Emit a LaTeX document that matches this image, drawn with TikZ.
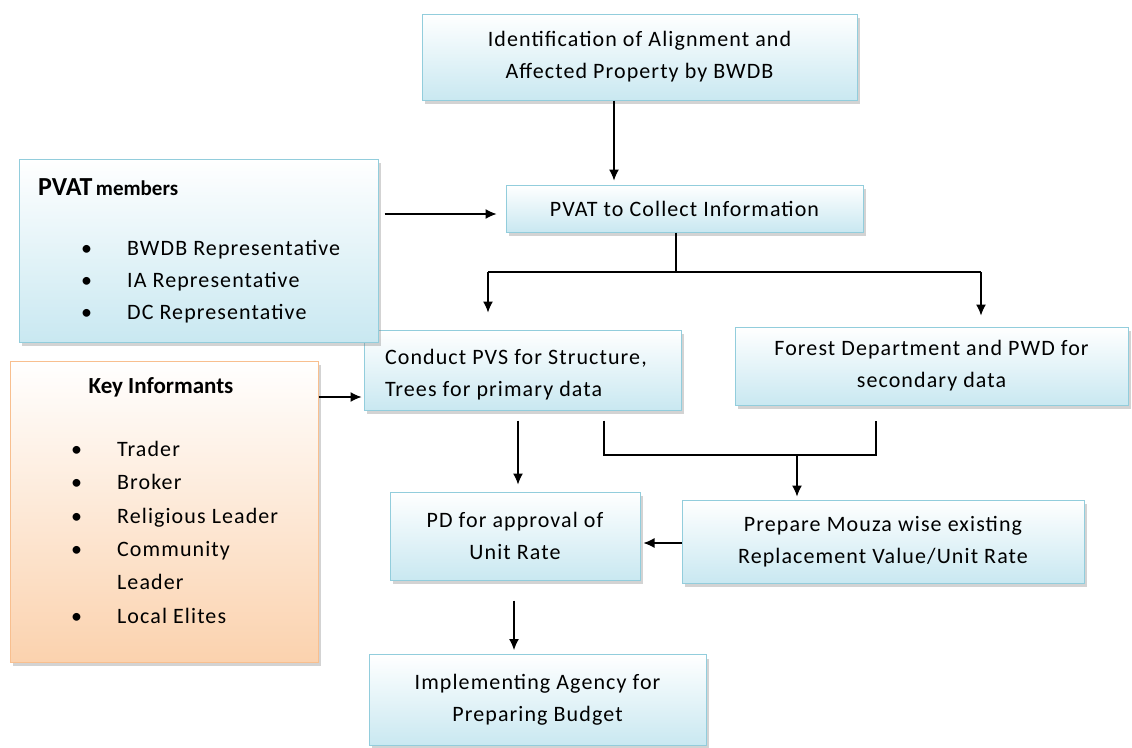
\documentclass[tikz,border=0pt]{standalone}
\usepackage{fontspec}
\setmainfont{Carlito}
\newfontfamily\boxfont[LetterSpace=5]{Carlito}
\usetikzlibrary{shadows,calc,arrows.meta}
\definecolor{stageline}{HTML}{92CDDC}
\definecolor{stagefill}{HTML}{C9E8F1}
\definecolor{sourceline}{HTML}{F8BF8F}
\definecolor{sourcefill}{HTML}{FBD2AE}
\begin{document}
\begin{tikzpicture}[x=1pt, y=-1pt,
    stage/.style={draw=stageline, line width=1pt, top color=white, bottom color=stagefill,
      drop shadow={shadow xshift=3pt, shadow yshift=-4pt, fill=black!50, opacity=.35},
      align=center, inner sep=0pt, font=\boxfont\fontsize{22}{32}\selectfont},
    source/.style={stage, draw=sourceline, bottom color=sourcefill},
    flow/.style={-{Latex[length=11pt,width=10pt]}, line width=1.2pt},
    link/.style={line width=1.2pt},
    listtext/.style={inner sep=0pt, align=left}]
  \useasboundingbox (0,0) rectangle (1132,747);
  % boxes of the flow
  \draw ( 639.5,  57) node [stage, minimum width=435pt, minimum height=86pt] (ident)
          {Identification of Alignment and\\ Affected Property by BWDB}
        ( 684.5, 208.5) node [stage, minimum width=357pt, minimum height=47pt] (collect)
          {PVAT to Collect Information}
        ( 522.5, 370) node [stage, minimum width=317pt, minimum height=80pt] (conduct)
          {\begin{minipage}{275pt}\vspace*{10pt}Conduct PVS for Structure,\\ Trees for primary data\end{minipage}}
        ( 931.5, 366) node [stage, minimum width=393pt, minimum height=78pt] (forest)
          {Forest Department and PWD for\\ secondary data}
        ( 515,   536) node [stage, minimum width=250pt, minimum height=88pt] (approval)
          {PD for approval of\\ Unit Rate}
        ( 883,   541.5) node [stage, minimum width=402pt, minimum height=83pt] (mouza)
          {Prepare Mouza wise existing\\ Replacement Value/Unit Rate}
        ( 537.5, 700) node [stage, minimum width=337pt, minimum height=91pt] (budget)
          {Implementing Agency for\\ Preparing Budget};
  % boxes of the team and the informants
  \node [stage, minimum width=359pt, minimum height=183pt] (members) at (198.5, 250.5) {};
  \node [source, minimum width=308pt, minimum height=301pt] (informants) at (164, 511.5) {};
  \node [listtext, anchor=base west] (members title) at (38, 195)
    {\bfseries\fontsize{26}{30}\selectfont PVAT\fontsize{21}{30}\selectfont\,members};
  \node [listtext, anchor=north west] (members list) at (81, 233)
    {\boxfont\fontsize{22}{32}\selectfont
     \begin{tabular}{@{}l@{\hspace{35pt}}l@{}}
       \textbullet & BWDB Representative\\
       \textbullet & IA Representative\\
       \textbullet & DC Representative
     \end{tabular}};
  \node [listtext, anchor=base] (informants title) at (161, 393)
    {\bfseries\fontsize{23}{30}\selectfont Key Informants};
  \node [listtext, anchor=north west] (informants list) at (71, 433)
    {\boxfont\fontsize{22}{33.3}\selectfont
     \begin{tabular}{@{}l@{\hspace{35pt}}l@{}}
       \textbullet & Trader\\
       \textbullet & Broker\\
       \textbullet & Religious Leader\\
       \textbullet & Community\\
                   & Leader\\
       \textbullet & Local Elites
     \end{tabular}};
  % connectors
  \coordinate (fork)   at (676, 272);
  \coordinate (forkL)  at (488, 272);
  \coordinate (forkR)  at (981, 272);
  \coordinate (joinL)  at (604, 455);
  \coordinate (joinR)  at (876, 455);
  \coordinate (join)   at (797, 455);
  \draw [flow, shorten >=4pt] ([xshift=-25.5pt]ident.south) -- ([xshift=-25.5pt]ident.south |- collect.north);
  \draw [flow, shorten <=6pt, shorten >=9pt] ([yshift=36.5pt]members.east) -- ([yshift=36.5pt]members.east -| collect.west);
  \draw [link] (collect.south -| fork) -- (fork);
  \draw [link] (forkL) -- (forkR);
  \draw [flow] (forkL) -- ([yshift=17pt]forkL |- conduct.north);
  \draw [flow] (forkR) -- ([yshift=11pt]forkR |- forest.north);
  \draw [flow, shorten >=2pt] ([yshift=114.5pt]informants.east) -- ([yshift=114.5pt]informants.east -| conduct.west);
  \draw [flow, shorten <=10pt, shorten >=7pt] ([xshift=-4.5pt]conduct.south) -- ([xshift=-4.5pt]conduct.south |- approval.north);
  \draw [link, shorten <=10pt, shorten >=15pt] (conduct.south -| joinL) |- (joinR) -- (joinR |- forest.south);
  \draw [flow, shorten >=3pt] (join) -- (join |- mouza.north);
  \draw [flow, shorten >=3pt] ([yshift=-1.5pt]mouza.west) -- ([yshift=-1.5pt]mouza.west -| approval.east);
  \draw [flow, shorten <=20pt, shorten >=4pt] ([xshift=-1pt]approval.south) -- ([xshift=-1pt]approval.south |- budget.north);
\end{tikzpicture}
\end{document}
